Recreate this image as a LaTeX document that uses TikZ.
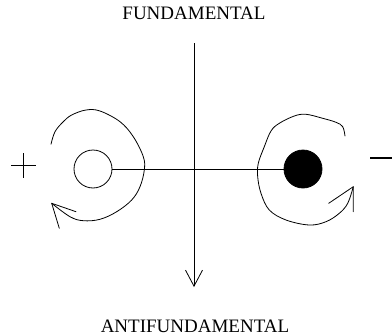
\documentclass[tikz,border=0pt]{standalone}
\usepackage{fontspec}
\setmainfont{Liberation Serif}
\usetikzlibrary{arrows.meta}
\begin{document}
\begin{tikzpicture}[x=1pt,y=-1pt,
  thin line/.style={line width=0.8pt, black},
  label text/.style={font=\fontsize{19}{21}\selectfont, inner sep=0pt, anchor=center},
  charge/.style={circle, draw, line width=0.8pt, minimum size=38pt, inner sep=0pt},
  swirl/.style={line width=0.8pt, line join=round, line cap=round}]
\useasboundingbox (0,0) rectangle (392,335);
% labels
\node[label text] (fund) at (194,13) {FUNDAMENTAL};
\node[label text] (antifund) at (195,326) {ANTIFUNDAMENTAL};
% charges
\node[charge] (left) at (93,169) {};
\node[charge, fill=black] (right) at (303,169) {};
% axes
\draw[thin line] (left.east) -- (right.west);
\coordinate (vtop) at (194,43);
\coordinate (vbot) at (194,287);
\draw[thin line, -{Straight Barb[length=16pt,width=17pt]}] (vtop) -- (vbot);
% plus and minus
\draw[line width=1.2pt] (11,165.3) -- (36,165.3) (23.5,153) -- (23.5,178);
\draw[line width=2.4pt] (370,158) -- (395,158);
% left swirl
\coordinate (ltip) at (51.7,203.3);
\draw[swirl] plot[smooth, tension=0.6] coordinates {(51,144.3) (55,131.7) (63.3,121.7) (71.7,115) (86,110) (100,111) (120,121.7) (133.3,136.7) (143.3,156.7) (144.3,170) (140,186.7) (131.7,200) (116.7,211.7) (100,219.3) (83.3,220.7) (70,216.7) (51.7,203.3)};
\draw[swirl] (76,211.7) -- (ltip) -- (59.3,228.3);
% right swirl
\coordinate (rtip) at (353.3,186.7);
\draw[swirl] plot[smooth, tension=0.6] coordinates {(345,136) (342.7,126.7) (336,122.3) (322.7,118.3) (306,114.3) (294.3,116) (279.3,123.3) (271,131) (264.3,146.7) (258.3,163.3) (257.7,176.7) (261,193.3) (269.3,210) (286,220) (309.3,225) (326,221.7) (339.3,213.3) (347.7,203.3) (353.3,186.7)};
\draw[swirl] (328.7,203.3) -- (rtip) -- (353.3,211.7);
\end{tikzpicture}
\end{document}
